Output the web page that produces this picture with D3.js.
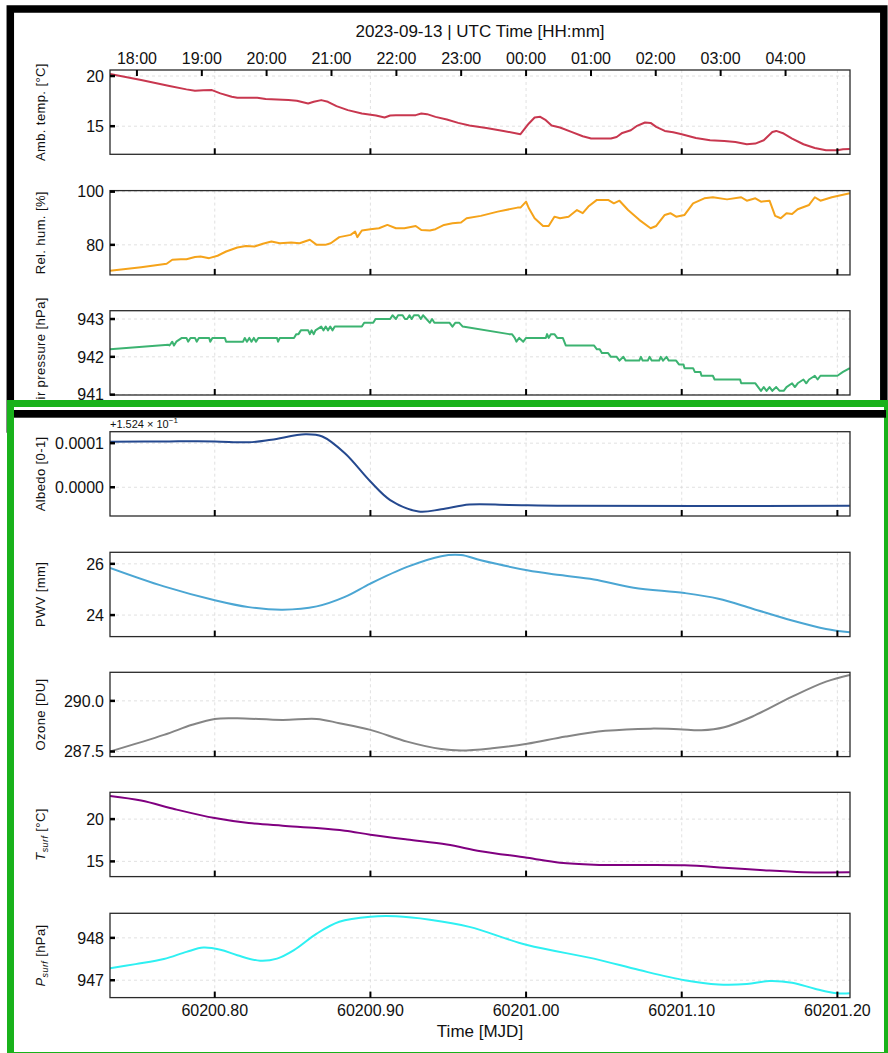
<!DOCTYPE html>
<html><head><meta charset="utf-8">
<script src="https://cdn.jsdelivr.net/npm/d3@7"></script>
<style>body{margin:0;background:#fff}svg{display:block}text{font-family:"Liberation Sans",Arial,sans-serif;fill:#111}</style>
</head><body><svg id="c" width="888" height="1053"></svg>
<script>
// ---------- data ----------
const hourLabels = ["18:00","19:00","20:00","21:00","22:00","23:00","00:00","01:00","02:00","03:00","04:00"];
const hourTicks = [60200.75,60200.7917,60200.8333,60200.875,60200.9167,60200.9583,60201.0,60201.0417,60201.0833,60201.125,60201.1667];
const mjdTicks = [60200.8,60200.9,60201.0,60201.1,60201.2];
const mjdLabels = ["60200.80","60200.90","60201.00","60201.10","60201.20"];
const mjdRange = [60200.7327,60201.2081];

const ambTemp = [[60200.7327,20.2],[60200.7527,19.6],[60200.7709,19.0],[60200.7818,18.67],[60200.7873,18.53],[60200.7927,18.57],[60200.7982,18.6],[60200.8036,18.27],[60200.8109,17.93],[60200.8145,17.83],[60200.8273,17.83],[60200.8327,17.7],[60200.84,17.67],[60200.8473,17.6],[60200.8527,17.53],[60200.86,17.27],[60200.8636,17.43],[60200.8684,17.6],[60200.8727,17.43],[60200.8782,17.0],[60200.8855,16.6],[60200.8945,16.27],[60200.9036,16.07],[60200.9091,15.87],[60200.9127,16.07],[60200.9164,16.1],[60200.9291,16.1],[60200.9327,16.27],[60200.9364,16.2],[60200.9418,15.93],[60200.9491,15.67],[60200.9564,15.33],[60200.9636,15.07],[60200.9745,14.83],[60200.9855,14.53],[60200.9964,14.2],[60201.0018,15.27],[60201.0055,15.87],[60201.0091,15.93],[60201.0127,15.6],[60201.0164,15.07],[60201.0218,14.87],[60201.0291,14.43],[60201.0364,14.0],[60201.0418,13.77],[60201.0545,13.77],[60201.0582,13.93],[60201.0618,14.33],[60201.0673,14.6],[60201.0709,15.0],[60201.0764,15.37],[60201.08,15.33],[60201.0836,14.93],[60201.0891,14.53],[60201.0945,14.4],[60201.1,14.2],[60201.1091,13.83],[60201.1182,13.6],[60201.1273,13.53],[60201.1345,13.43],[60201.1418,13.2],[60201.1473,13.27],[60201.1527,13.6],[60201.1582,14.43],[60201.1607,14.53],[60201.1655,14.27],[60201.1709,13.77],[60201.1782,13.2],[60201.1855,12.83],[60201.1927,12.6],[60201.2,12.6],[60201.2036,12.7],[60201.208,12.73]];

const relHum = [[60200.7327,70.25],[60200.7527,71.6],[60200.7691,72.9],[60200.7727,74.4],[60200.7782,74.6],[60200.7818,74.6],[60200.7873,75.4],[60200.7909,75.6],[60200.7964,75.0],[60200.8018,75.9],[60200.8073,77.5],[60200.8145,79.0],[60200.82,79.6],[60200.8255,79.4],[60200.8309,80.4],[60200.8364,81.25],[60200.8418,80.6],[60200.8491,80.9],[60200.8545,80.6],[60200.8611,81.9],[60200.8655,80.0],[60200.8709,80.0],[60200.8745,80.6],[60200.88,82.9],[60200.8873,83.75],[60200.8902,85.0],[60200.8916,82.9],[60200.8945,85.4],[60200.9,85.9],[60200.9055,86.25],[60200.9109,87.5],[60200.9164,86.25],[60200.9218,86.25],[60200.9291,87.1],[60200.9327,85.6],[60200.9382,85.4],[60200.9418,85.9],[60200.9473,87.5],[60200.9527,88.1],[60200.9582,88.4],[60200.9618,90.0],[60200.9709,90.9],[60200.9818,92.5],[60200.9945,94.0],[60200.9964,94.0],[60201.0,96.25],[60201.0018,93.75],[60201.0055,90.0],[60201.0109,87.1],[60201.0145,87.1],[60201.0182,90.6],[60201.0218,90.0],[60201.0273,90.6],[60201.0327,93.1],[60201.0364,91.9],[60201.04,94.4],[60201.0455,96.9],[60201.0527,96.9],[60201.0564,95.6],[60201.06,96.6],[60201.0655,93.1],[60201.0727,89.4],[60201.08,86.25],[60201.0836,87.1],[60201.0891,91.25],[60201.0927,91.9],[60201.0964,90.6],[60201.1018,91.25],[60201.1073,95.6],[60201.1145,97.5],[60201.12,97.9],[60201.1291,97.1],[60201.1382,97.9],[60201.1418,96.6],[60201.1473,97.5],[60201.1509,96.25],[60201.1564,96.6],[60201.16,90.9],[60201.1636,90.0],[60201.1673,91.9],[60201.1709,91.6],[60201.1745,93.4],[60201.1818,95.0],[60201.1855,97.9],[60201.1891,96.6],[60201.1964,97.9],[60201.208,99.4]];

const airPres = [[60200.7327,942.2],[60200.7702,942.32],[60200.7709,942.3],[60200.7727,942.4],[60200.7738,942.3],[60200.7753,942.4],[60200.7789,942.5],[60200.7818,942.5],[60200.7829,942.4],[60200.7844,942.5],[60200.7873,942.5],[60200.7884,942.4],[60200.7898,942.5],[60200.7964,942.5],[60200.7971,942.4],[60200.7985,942.5],[60200.8065,942.5],[60200.8073,942.4],[60200.8182,942.4],[60200.8193,942.5],[60200.8207,942.4],[60200.8222,942.5],[60200.8236,942.4],[60200.8251,942.5],[60200.8265,942.4],[60200.828,942.5],[60200.84,942.5],[60200.8407,942.4],[60200.8418,942.5],[60200.8509,942.5],[60200.8524,942.6],[60200.8538,942.6],[60200.8553,942.7],[60200.86,942.7],[60200.8611,942.6],[60200.8622,942.7],[60200.8636,942.6],[60200.8647,942.7],[60200.8684,942.8],[60200.8698,942.7],[60200.8713,942.8],[60200.8727,942.7],[60200.8742,942.8],[60200.8756,942.7],[60200.8771,942.8],[60200.8945,942.8],[60200.896,942.9],[60200.9018,942.9],[60200.9033,943.0],[60200.9127,943.0],[60200.9142,943.1],[60200.9164,943.0],[60200.9178,943.1],[60200.9207,943.1],[60200.9222,943.0],[60200.9236,943.0],[60200.9251,943.1],[60200.9265,943.0],[60200.928,943.1],[60200.9309,943.1],[60200.9324,943.0],[60200.9338,943.1],[60200.936,943.0],[60200.9382,942.9],[60200.9396,943.0],[60200.9411,942.9],[60200.9509,942.9],[60200.9527,942.8],[60200.9545,942.9],[60200.9571,942.9],[60200.9593,942.8],[60200.9891,942.6],[60200.9909,942.6],[60200.9927,942.5],[60200.9938,942.4],[60200.9956,942.5],[60200.9982,942.4],[60201.0,942.5],[60201.0127,942.5],[60201.0135,942.6],[60201.0145,942.5],[60201.016,942.6],[60201.0182,942.6],[60201.02,942.5],[60201.0236,942.5],[60201.0255,942.3],[60201.0436,942.3],[60201.0455,942.2],[60201.0473,942.2],[60201.0487,942.1],[60201.0527,942.1],[60201.0545,942.0],[60201.0582,942.0],[60201.06,941.9],[60201.0625,942.0],[60201.064,941.9],[60201.0727,941.9],[60201.0738,942.0],[60201.0749,941.9],[60201.0782,941.9],[60201.0793,942.0],[60201.0807,941.9],[60201.0855,941.9],[60201.0865,942.0],[60201.088,941.9],[60201.0902,942.0],[60201.0916,941.9],[60201.0964,941.9],[60201.0982,941.8],[60201.1011,941.8],[60201.1018,941.7],[60201.1073,941.7],[60201.1084,941.6],[60201.112,941.6],[60201.1127,941.5],[60201.12,941.5],[60201.1211,941.4],[60201.1345,941.4],[60201.1375,941.4],[60201.1382,941.3],[60201.1473,941.3],[60201.1491,941.2],[60201.1509,941.1],[60201.1527,941.2],[60201.1545,941.1],[60201.1564,941.2],[60201.1582,941.1],[60201.1607,941.2],[60201.1629,941.1],[60201.1655,941.1],[60201.1673,941.2],[60201.1709,941.3],[60201.1727,941.2],[60201.1745,941.3],[60201.1782,941.4],[60201.18,941.3],[60201.1818,941.4],[60201.1855,941.5],[60201.1873,941.4],[60201.1891,941.5],[60201.2,941.5],[60201.2036,941.6],[60201.208,941.7]];

const albedo = [[60200.7327,0.152503],[60200.7709,0.152504],[60200.8,0.152504],[60200.8218,0.152502],[60200.8364,0.152508],[60200.8582,0.15252],[60200.8691,0.152515],[60200.8836,0.152477],[60200.9,0.152413],[60200.9127,0.152371],[60200.9309,0.152345],[60200.9455,0.15235],[60200.9636,0.152361],[60200.9891,0.15236],[60201.0255,0.152358],[60201.208,0.152358]];
const albedoOffset = 0.1524;

const pwv = [[60200.7327,25.84],[60200.7673,25.12],[60200.8,24.58],[60200.8218,24.31],[60200.8436,24.21],[60200.8655,24.34],[60200.8836,24.71],[60200.9,25.23],[60200.9236,25.88],[60200.9455,26.3],[60200.9582,26.34],[60200.9709,26.14],[60201.0007,25.75],[60201.0218,25.56],[60201.0436,25.39],[60201.0691,25.07],[60201.1018,24.86],[60201.1236,24.64],[60201.1455,24.25],[60201.1709,23.79],[60201.1927,23.46],[60201.208,23.33]];

const ozone = [[60200.7327,287.5],[60200.7673,288.32],[60200.7855,288.82],[60200.8,289.11],[60200.8145,289.14],[60200.8436,289.06],[60200.8655,289.11],[60200.88,288.9],[60200.9,288.57],[60200.9236,287.99],[60200.9455,287.62],[60200.9582,287.55],[60200.9782,287.66],[60201.0007,287.88],[60201.0255,288.24],[60201.0509,288.52],[60201.08,288.63],[60201.0982,288.6],[60201.1127,288.55],[60201.1273,288.7],[60201.1455,289.23],[60201.1709,290.21],[60201.1927,290.95],[60201.208,291.28]];

const tSurf = [[60200.7327,22.73],[60200.7527,22.19],[60200.7745,21.17],[60200.8,20.12],[60200.8218,19.53],[60200.8436,19.22],[60200.8655,18.95],[60200.8836,18.63],[60200.9,18.16],[60200.9236,17.58],[60200.9491,16.99],[60200.9709,16.21],[60201.0007,15.43],[60201.0218,14.84],[60201.0436,14.61],[60201.0727,14.57],[60201.1018,14.53],[60201.1273,14.26],[60201.1527,13.95],[60201.1782,13.72],[60201.208,13.7]];

const pSurf = [[60200.7327,947.28],[60200.7491,947.38],[60200.7673,947.5],[60200.7818,947.67],[60200.7927,947.77],[60200.8036,947.72],[60200.8145,947.59],[60200.8291,947.46],[60200.84,947.51],[60200.8509,947.71],[60200.8655,948.1],[60200.88,948.38],[60200.9,948.5],[60200.9164,948.51],[60200.9382,948.43],[60200.9636,948.26],[60201.0007,947.83],[60201.0436,947.51],[60201.0727,947.24],[60201.1018,947.0],[60201.1236,946.9],[60201.1418,946.91],[60201.1564,946.98],[60201.1709,946.94],[60201.1855,946.8],[60201.2,946.69],[60201.208,946.69]];

const yLimits = [[12.2,20.6],[68.7,100.4],[940.99,943.22],[0.1523348,0.152526],[23.16,26.45],[287.25,291.41],[13.2,23.17],[946.59,948.58]];
const yTicks = [[15,20],[80,100],[941,942,943],[0.1524,0.1525],[24,26],[287.5,290.0],[15,20],[947,948]];
const yTitles = ["Amb. temp. [°C]","Rel. hum. [%]","Air pressure [hPa]","Albedo [0-1]","PWV [mm]","Ozone [DU]","T|surf| [°C]","P|surf| [hPa]"];
const seriesList = [ambTemp, relHum, airPres, albedo, pwv, ozone, tSurf, pSurf];

// ---------- layout / style ----------
const colors = ["#c8374f","#f5a31a","#3cb371","#25498f","#4ba6d3","#858585","#800080","#2ef0f2"];
const smooth = [false,false,false,true,true,true,true,true];
const fmts = [d=>d3.format("d")(d), d=>d3.format("d")(d), d=>d3.format("d")(d), d=>(d-albedoOffset).toFixed(4), d=>d3.format("d")(d), d=>d.toFixed(1), d=>d3.format("d")(d), d=>d3.format("d")(d)];
const panelTops = [70,190.6,310.7,431.7,552.3,672.3,792.3,913.3];
const panelH = 84.3;
const L = 110, R = 850;

const svg = d3.select("#c");
svg.append("rect").attr("width",888).attr("height",1053).attr("fill","#fff");

// black frame (upper figure)
svg.append("rect").attr("x",10.3).attr("y",9).attr("width",873.5).attr("height",420).attr("fill","none").attr("stroke","#000").attr("stroke-width",7.5);

const x = d3.scaleLinear().domain(mjdRange).range([L,R]);
const defs = svg.append("defs");

function drawPanel(i, root){
  const top = panelTops[i], bot = top + panelH;
  const y = d3.scaleLinear().domain(yLimits[i]).range([bot, top]);
  const g = root.append("g");
  g.selectAll(".gy").data(yTicks[i]).join("line")
    .attr("x1",L).attr("x2",R).attr("y1",d=>y(d)).attr("y2",d=>y(d))
    .attr("stroke","#d9d9d9").attr("stroke-width",0.8).attr("stroke-dasharray","3,3");
  g.selectAll(".gx").data(mjdTicks).join("line")
    .attr("x1",d=>x(d)).attr("x2",d=>x(d)).attr("y1",top).attr("y2",bot)
    .attr("stroke","#d9d9d9").attr("stroke-width",0.8).attr("stroke-dasharray","3,3");
  defs.append("clipPath").attr("id","cp"+i).append("rect").attr("x",L).attr("y",top).attr("width",R-L).attr("height",panelH);
  const line = d3.line().x(d=>x(d[0])).y(d=>y(d[1])).curve(smooth[i]?d3.curveCatmullRom.alpha(0.5):d3.curveLinear);
  g.append("path").datum(seriesList[i]).attr("d",line).attr("fill","none")
    .attr("stroke",colors[i]).attr("stroke-width",2).attr("stroke-linejoin","round")
    .attr("clip-path","url(#cp"+i+")");
  g.append("rect").attr("x",L).attr("y",top).attr("width",R-L).attr("height",panelH)
    .attr("fill","none").attr("stroke","#2a2a2a").attr("stroke-width",1.3);
  g.selectAll(".yt").data(yTicks[i]).join("line")
    .attr("x1",L).attr("x2",L+5).attr("y1",d=>y(d)).attr("y2",d=>y(d))
    .attr("stroke","#000").attr("stroke-width",2.5);
  g.selectAll(".yl").data(yTicks[i]).join("text")
    .attr("x",L-6).attr("y",d=>y(d)).attr("dy","0.36em").attr("text-anchor","end")
    .attr("font-size",16).text(fmts[i]);
  g.selectAll(".xt").data(mjdTicks).join("line")
    .attr("x1",d=>x(d)).attr("x2",d=>x(d)).attr("y1",bot).attr("y2",bot-6)
    .attr("stroke","#000").attr("stroke-width",2);
  const t = g.append("text").attr("transform",`translate(45,${top+panelH/2}) rotate(-90)`)
    .attr("text-anchor","middle").attr("font-size",13).attr("letter-spacing",0.4);
  const parts = yTitles[i].split("|");
  if(parts.length===1){ t.text(parts[0]); }
  else {
    t.append("tspan").attr("font-style","italic").text(parts[0]);
    t.append("tspan").attr("font-style","italic").attr("font-size",9).attr("dy",3).text(parts[1]);
    t.append("tspan").attr("dy",-3).text(parts[2]);
  }
  return {y, top, bot};
}

const upper = svg.append("g");
const p0 = drawPanel(0, upper);
drawPanel(1, upper);
drawPanel(2, upper);
upper.selectAll(".ht").data(hourTicks).join("line")
  .attr("x1",d=>x(d)).attr("x2",d=>x(d)).attr("y1",p0.top).attr("y2",p0.top+6)
  .attr("stroke","#000").attr("stroke-width",2);
upper.selectAll(".hl").data(hourTicks).join("text")
  .attr("x",d=>x(d)).attr("y",64).attr("text-anchor","middle").attr("font-size",16)
  .text((d,k)=>hourLabels[k]);
upper.append("text").attr("x",(L+R)/2).attr("y",37).attr("text-anchor","middle")
  .attr("font-size",17).text("2023-09-13 | UTC Time [HH:mm]");

svg.append("rect").attr("x",10.5).attr("y",403.5).attr("width",877).attr("height",652)
  .attr("fill","#fff").attr("stroke","#19b21b").attr("stroke-width",7);
svg.append("rect").attr("x",14).attr("y",410).attr("width",872).attr("height",7.7).attr("fill","#000");

const lower = svg.append("g");
for(let i=3;i<8;i++) drawPanel(i, lower);
const off = lower.append("text").attr("x",L).attr("y",428).attr("font-size",11);
off.append("tspan").text("+1.524 × 10");
off.append("tspan").attr("font-size",8).attr("dy",-5).text("−1");
const lastBot = panelTops[7]+panelH;
lower.selectAll(".xl").data(mjdTicks).join("text")
  .attr("x",d=>x(d)).attr("y",lastBot+18).attr("text-anchor","middle").attr("font-size",16)
  .text((d,k)=>mjdLabels[k]);
lower.append("text").attr("x",(L+R)/2).attr("y",lastBot+39).attr("text-anchor","middle")
  .attr("font-size",17).text("Time [MJD]");
</script></body></html>
